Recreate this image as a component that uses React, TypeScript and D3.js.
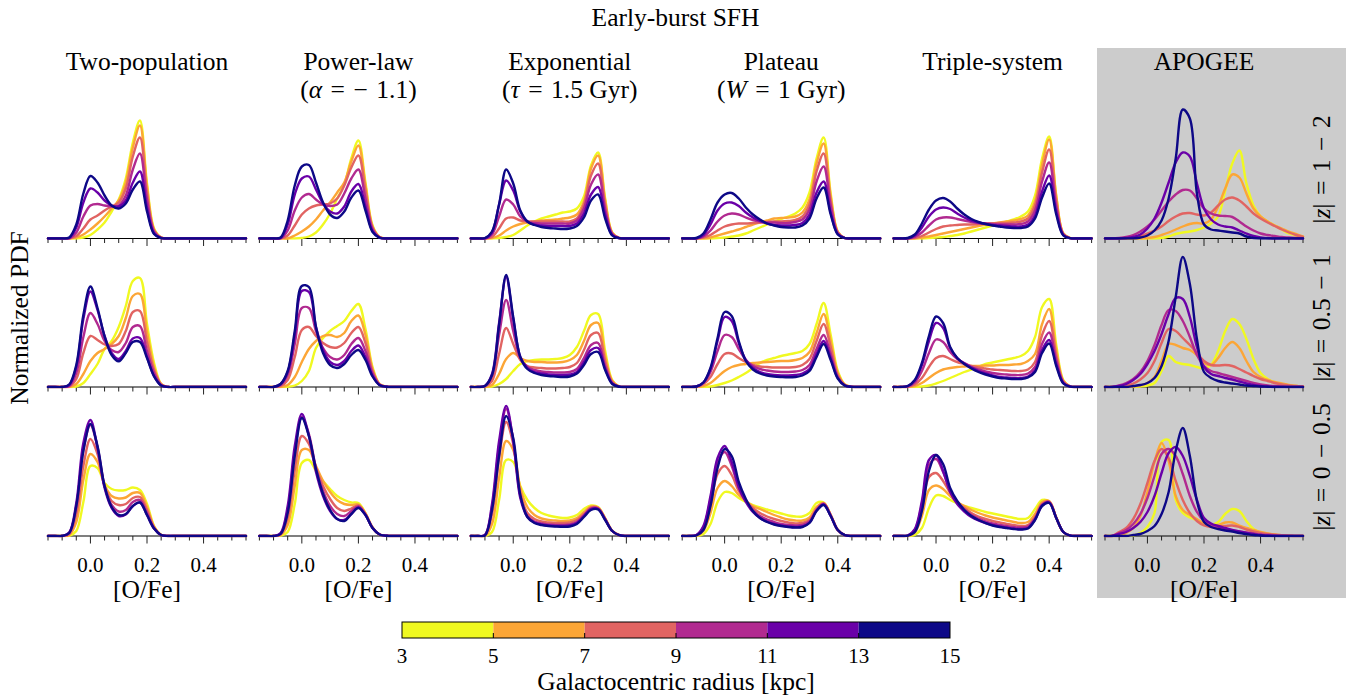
import React from "react";
import * as d3 from "d3";

// ---------- data (PDF heights, grid in [O/Fe]) ----------
const oFeGrid = [-0.15, -0.125, -0.1, -0.075, -0.05, -0.025, 0, 0.025, 0.05, 0.075, 0.1, 0.125, 0.15, 0.175, 0.2, 0.225, 0.25, 0.275, 0.3, 0.325, 0.35, 0.375, 0.4, 0.425, 0.45, 0.475, 0.5, 0.525, 0.55];
const radiusBins = ["3-5", "5-7", "7-9", "9-11", "11-13", "13-15"];
const binColors = ["#f0f921", "#fca636", "#e16462", "#b12a90", "#6a00a8", "#0d0887"];
const colorbarTicks = [3, 5, 7, 9, 11, 13, 15];
const xTickValues = [-0.15, -0.1, -0.05, 0, 0.05, 0.1, 0.15, 0.2, 0.25, 0.3, 0.35, 0.4, 0.45, 0.5, 0.55];
const xTickLabels = [0, 0.2, 0.4];

// each array: [3-5, 5-7, 7-9, 9-11, 11-13, 13-15] kpc
const twoPopulation_z1to2 = [
  [0,0,0,0,0,0.1,0.35,0.9,1.6,2.7,3.9,6.0,9.6,11.8,5.5,1.0,0.1,0,0,0,0,0,0,0,0,0,0,0,0],
  [0,0,0,0,0.1,0.4,0.9,1.5,2.2,3.0,3.8,5.6,9.1,11.3,5.2,0.9,0.1,0,0,0,0,0,0,0,0,0,0,0,0],
  [0,0,0,0,0.25,1.0,1.9,2.3,2.8,3.2,3.6,5.0,8.2,10.1,4.6,0.8,0.1,0,0,0,0,0,0,0,0,0,0,0,0],
  [0,0,0,0,0.6,2.2,3.3,3.45,3.3,3.2,3.3,4.3,6.9,8.5,3.9,0.7,0.05,0,0,0,0,0,0,0,0,0,0,0,0],
  [0,0,0,0.05,1.1,3.6,5.0,4.6,3.8,3.3,3.2,3.8,5.6,6.7,3.1,0.5,0.05,0,0,0,0,0,0,0,0,0,0,0,0],
  [0,0,0,0.1,1.4,4.5,6.25,5.6,4.3,3.3,3.0,3.5,4.9,5.7,2.7,0.45,0.03,0,0,0,0,0,0,0,0,0,0,0,0],
];
const powerLaw_z1to2 = [
  [0,0,0,0,0,0,0.05,0.2,0.6,1.4,2.5,4.0,5.4,8.0,9.8,5.6,1.3,0.15,0,0,0,0,0,0,0,0,0,0,0],
  [0,0,0,0,0,0.3,0.7,1.2,1.9,2.8,3.6,4.6,5.6,7.7,9.3,5.3,1.2,0.15,0,0,0,0,0,0,0,0,0,0,0],
  [0,0,0,0,0.3,1.3,2.4,3.0,3.3,3.4,3.5,4.0,5.3,7.1,8.3,4.8,1.1,0.12,0,0,0,0,0,0,0,0,0,0,0],
  [0,0,0,0,0.8,2.8,4.1,4.45,3.9,3.4,3.25,3.4,4.5,6.0,6.9,4.0,0.95,0.1,0,0,0,0,0,0,0,0,0,0,0],
  [0,0,0,0.05,1.4,4.4,6.0,6.2,4.9,3.5,2.7,2.5,3.2,4.7,5.45,3.2,0.75,0.08,0,0,0,0,0,0,0,0,0,0,0],
  [0,0,0,0.1,1.8,5.3,7.2,7.35,5.6,3.6,2.4,2.05,2.7,4.1,4.8,2.8,0.65,0.07,0,0,0,0,0,0,0,0,0,0,0],
];
const exponential_z1to2 = [
  [0,0,0,0,0.05,0.15,0.35,0.8,1.3,1.7,2.0,2.2,2.4,2.6,2.7,3.0,4.2,7.3,8.6,4.0,0.6,0.05,0,0,0,0,0,0,0],
  [0,0,0,0.05,0.3,0.8,1.2,1.45,1.6,1.7,1.8,1.85,1.9,2.0,2.1,2.4,3.7,7.0,8.3,3.8,0.55,0.05,0,0,0,0,0,0,0],
  [0,0,0,0.15,1.0,2.0,2.1,1.8,1.7,1.7,1.7,1.7,1.7,1.7,1.7,2.0,3.4,6.3,7.5,3.4,0.5,0.04,0,0,0,0,0,0,0],
  [0,0,0,0.4,2.2,3.9,3.4,2.2,1.7,1.55,1.5,1.5,1.5,1.5,1.5,1.8,3.0,5.4,6.4,2.9,0.45,0.04,0,0,0,0,0,0,0],
  [0,0,0,0.6,3.4,5.8,4.8,2.7,1.7,1.4,1.3,1.25,1.25,1.25,1.25,1.5,2.5,4.4,5.15,2.4,0.35,0.03,0,0,0,0,0,0,0],
  [0,0,0.05,0.7,3.4,6.9,5.5,2.8,1.7,1.35,1.15,1.05,1.0,0.95,1.0,1.25,2.1,3.8,4.4,2.0,0.3,0.03,0,0,0,0,0,0,0],
];
const plateau_z1to2 = [
  [0,0,0,0,0,0.05,0.1,0.2,0.3,0.5,0.8,1.1,1.4,1.7,1.95,2.2,2.5,3.1,4.6,8.0,10.1,4.5,0.7,0.05,0,0,0,0,0],
  [0,0,0,0,0.1,0.3,0.5,0.7,0.9,1.15,1.4,1.6,1.8,2.0,2.05,2.1,2.2,2.6,3.9,7.5,9.5,4.2,0.65,0.05,0,0,0,0,0],
  [0,0,0,0.1,0.35,0.8,1.2,1.4,1.5,1.5,1.55,1.6,1.65,1.7,1.7,1.75,1.85,2.2,3.4,6.7,8.5,3.8,0.6,0.05,0,0,0,0,0],
  [0,0,0,0.2,0.8,1.7,2.3,2.5,2.4,2.1,1.85,1.7,1.6,1.6,1.55,1.55,1.65,1.9,2.9,5.7,7.2,3.3,0.5,0.04,0,0,0,0,0],
  [0,0,0,0.35,1.4,2.8,3.5,3.6,3.25,2.6,2.1,1.75,1.5,1.35,1.3,1.3,1.35,1.55,2.4,4.6,5.7,2.6,0.45,0.04,0,0,0,0,0],
  [0,0,0.05,0.5,1.9,3.6,4.4,4.55,4.0,3.1,2.4,1.9,1.5,1.3,1.15,1.1,1.1,1.3,2.0,4.0,5.1,2.4,0.4,0.03,0,0,0,0,0],
];
const tripleSystem_z1to2 = [
  [0,0,0,0,0,0.05,0.1,0.15,0.25,0.35,0.5,0.7,0.9,1.1,1.3,1.5,1.7,1.9,2.2,2.7,4.3,8.0,10.2,4.3,0.5,0.03,0,0,0],
  [0,0,0,0,0.1,0.2,0.35,0.5,0.65,0.8,0.95,1.1,1.25,1.4,1.5,1.6,1.7,1.8,1.95,2.3,3.7,7.4,9.9,4.2,0.5,0.03,0,0,0],
  [0,0,0,0.05,0.25,0.6,0.95,1.2,1.3,1.35,1.4,1.4,1.45,1.5,1.5,1.55,1.55,1.6,1.7,2.0,3.3,6.6,8.9,3.8,0.45,0.03,0,0,0],
  [0,0,0,0.15,0.6,1.3,1.9,2.1,2.1,1.95,1.8,1.65,1.55,1.5,1.45,1.4,1.4,1.4,1.45,1.7,2.8,5.7,7.6,3.2,0.4,0.03,0,0,0],
  [0,0,0,0.3,1.1,2.2,2.9,3.1,2.95,2.5,2.1,1.8,1.6,1.45,1.35,1.3,1.25,1.2,1.2,1.4,2.3,4.7,6.3,2.7,0.35,0.02,0,0,0],
  [0,0,0.05,0.4,1.5,2.9,3.8,4.05,3.7,3.0,2.4,1.95,1.65,1.45,1.3,1.2,1.1,1.05,1.05,1.2,2.0,4.1,5.5,2.4,0.3,0.02,0,0,0],
];
const apogee_z1to2 = [
  [0,0,0,0,0,0,0,0,0.05,0.2,0.45,0.6,0.7,0.85,1.1,1.5,2.2,4.8,7.5,8.8,5.5,3.3,2.2,1.7,1.3,0.9,0.5,0.3,0.15],
  [0,0,0,0,0,0,0.05,0.15,0.35,0.6,0.9,1.2,1.45,1.55,1.5,1.9,3.2,5.0,6.4,6.1,4.5,3.0,2.2,1.7,1.3,1.0,0.7,0.45,0.2],
  [0,0,0,0.05,0.1,0.25,0.5,0.8,1.2,1.75,2.2,2.5,2.55,2.4,2.3,2.6,3.3,3.9,4.1,3.8,3.2,2.5,2.0,1.6,1.25,0.9,0.6,0.35,0.15],
  [0,0,0.05,0.15,0.35,0.7,1.2,1.9,2.8,3.7,4.4,4.85,4.8,4.0,3.0,2.5,2.3,2.25,2.15,1.7,1.2,0.8,0.5,0.35,0.25,0.15,0.1,0.05,0],
  [0,0,0,0.05,0.15,0.4,1.0,2.0,3.6,5.6,7.6,8.6,8.2,5.5,3.0,1.9,1.4,1.2,1.1,0.8,0.5,0.25,0.1,0.05,0,0,0,0,0],
  [0,0,0,0,0,0.1,0.3,0.8,1.8,4.0,8.0,12.9,12.0,4.5,1.4,0.9,0.8,0.7,0.6,0.5,0.2,0.05,0,0,0,0,0,0,0],
];

const twoPopulation_z05to1 = [
  [0,0,0,0,0.05,0.4,1.3,2.3,3.8,4.6,6.0,8.1,10.6,10.9,6.3,2.4,0.3,0,0,0,0,0,0,0,0,0,0,0,0],
  [0,0,0,0,0.3,1.3,2.6,3.4,3.8,4.3,5.1,6.9,9.1,9.3,5.5,2.0,0.3,0,0,0,0,0,0,0,0,0,0,0,0],
  [0,0,0,0.05,0.8,3.4,5.1,4.7,4.25,4.1,4.3,5.6,7.5,7.6,4.5,1.7,0.25,0,0,0,0,0,0,0,0,0,0,0,0],
  [0,0,0,0.1,1.4,5.0,7.4,6.3,4.6,3.7,3.5,4.4,6.0,6.1,3.6,1.4,0.2,0,0,0,0,0,0,0,0,0,0,0,0],
  [0,0,0,0.2,2.0,6.8,9.55,7.7,5.1,3.4,2.8,3.6,4.85,4.9,3.0,1.1,0.15,0,0,0,0,0,0,0,0,0,0,0,0],
  [0,0,0,0.25,2.2,7.2,10.05,7.9,5.07,3.2,2.57,3.4,4.5,4.5,2.9,1.07,0.15,0,0,0,0,0,0,0,0,0,0,0,0],
];
const powerLaw_z05to1 = [
  [0,0,0,0,0.03,0.15,0.6,1.6,3.9,4.9,5.6,6.1,6.6,7.6,8.3,5.8,2.0,0.3,0.03,0,0,0,0,0,0,0,0,0,0],
  [0,0,0,0,0.2,1.0,2.5,3.8,4.6,5.1,5.2,5.0,5.4,6.6,7.15,5.2,1.8,0.28,0.03,0,0,0,0,0,0,0,0,0,0],
  [0,0,0,0.1,0.7,3.0,5.7,6.0,5.1,4.4,4.0,3.95,4.4,5.4,6.0,4.4,1.6,0.25,0.03,0,0,0,0,0,0,0,0,0,0],
  [0,0,0,0.2,1.2,4.3,7.9,7.9,5.6,3.9,3.0,2.75,3.2,4.3,4.9,3.6,1.35,0.22,0.03,0,0,0,0,0,0,0,0,0,0],
  [0,0,0,0.3,1.5,5.2,9.6,9.5,6.0,3.7,2.5,2.2,2.6,3.6,4.15,3.0,1.15,0.2,0.02,0,0,0,0,0,0,0,0,0,0],
  [0,0,0,0.3,1.6,5.6,10.1,10.0,6.0,3.4,2.2,1.9,2.3,3.2,3.7,2.7,1.05,0.18,0.02,0,0,0,0,0,0,0,0,0,0],
];
const exponential_z05to1 = [
  [0,0,0,0.05,0.3,0.8,1.6,2.3,2.6,2.7,2.75,2.75,2.8,2.9,3.2,4.0,5.6,7.2,7.3,3.6,0.7,0.05,0,0,0,0,0,0,0],
  [0,0,0,0.2,1.3,2.8,3.4,2.9,2.6,2.5,2.5,2.45,2.45,2.5,2.7,3.2,4.6,6.2,6.4,3.1,0.6,0.05,0,0,0,0,0,0,0],
  [0,0,0.05,0.6,3.3,5.9,4.3,2.7,2.1,1.95,1.9,1.85,1.85,1.9,2.0,2.4,3.7,5.2,5.4,2.6,0.5,0.04,0,0,0,0,0,0,0],
  [0,0,0.1,1.1,5.2,8.7,5.6,2.9,2.0,1.7,1.55,1.5,1.45,1.45,1.5,1.8,2.9,4.2,4.4,2.1,0.4,0.03,0,0,0,0,0,0,0],
  [0,0,0.1,1.3,6.4,11.0,6.8,3.0,1.9,1.5,1.35,1.25,1.2,1.2,1.25,1.5,2.5,3.7,3.9,1.85,0.35,0.03,0,0,0,0,0,0,0],
  [0,0,0.1,1.2,6.2,11.2,7.0,3.0,1.8,1.4,1.2,1.1,1.05,1.0,1.05,1.35,2.2,3.3,3.5,1.7,0.3,0.02,0,0,0,0,0,0,0],
];
const plateau_z05to1 = [
  [0,0,0,0,0.05,0.2,0.4,0.65,1.0,1.4,1.9,2.4,2.7,2.9,3.1,3.25,3.4,3.6,4.3,6.3,8.4,5.2,1.6,0.25,0.02,0,0,0,0],
  [0,0,0,0.1,0.4,1.0,1.6,2.0,2.2,2.3,2.4,2.45,2.5,2.55,2.6,2.6,2.7,2.9,3.5,5.4,7.3,4.6,1.4,0.22,0.02,0,0,0,0],
  [0,0,0,0.3,1.0,2.3,3.3,3.35,2.9,2.5,2.2,2.05,2.0,1.95,1.95,1.95,2.0,2.2,2.8,4.6,6.3,4.0,1.2,0.2,0.02,0,0,0,0],
  [0,0,0.05,0.4,1.5,3.6,5.2,5.0,3.8,2.7,2.1,1.8,1.65,1.55,1.5,1.5,1.55,1.7,2.2,3.8,5.2,3.3,1.0,0.17,0.02,0,0,0,0],
  [0,0,0.05,0.45,1.8,4.6,7.0,6.6,4.4,2.7,1.9,1.5,1.3,1.2,1.15,1.15,1.2,1.35,1.8,3.3,4.6,2.9,0.9,0.15,0.01,0,0,0,0],
  [0,0,0.05,0.45,1.9,4.9,7.5,7.1,4.6,2.6,1.75,1.35,1.15,1.05,1.0,0.97,1.0,1.15,1.6,3.0,4.3,2.7,0.85,0.14,0.01,0,0,0,0],
];
const tripleSystem_z05to1 = [
  [0,0,0,0,0.05,0.15,0.35,0.6,0.9,1.2,1.5,1.75,2.0,2.3,2.45,2.6,2.75,2.9,3.1,3.6,5.0,8.0,8.8,4.2,0.7,0.05,0,0,0],
  [0,0,0,0.1,0.4,0.9,1.4,1.75,1.9,2.0,2.05,2.1,2.1,2.15,2.15,2.2,2.2,2.25,2.3,2.6,3.3,6.3,7.8,3.7,0.6,0.05,0,0,0],
  [0,0,0.03,0.25,0.9,2.0,2.9,3.1,2.8,2.5,2.3,2.1,1.95,1.85,1.75,1.7,1.65,1.6,1.6,1.75,2.5,5.2,6.6,3.2,0.55,0.04,0,0,0],
  [0,0,0.05,0.45,1.6,3.4,4.75,4.5,3.5,2.8,2.4,2.0,1.75,1.55,1.4,1.3,1.25,1.2,1.2,1.35,2.0,4.3,5.45,2.7,0.45,0.03,0,0,0],
  [0,0,0.1,0.65,2.2,4.6,6.4,5.9,3.9,2.9,2.35,1.95,1.6,1.35,1.15,1.0,0.95,0.9,0.9,1.05,1.65,3.7,4.7,2.3,0.4,0.03,0,0,0],
  [0,0,0.1,0.7,2.4,5.1,7.05,6.4,4.0,2.9,2.3,1.85,1.5,1.25,1.05,0.9,0.85,0.8,0.8,0.95,1.5,3.4,4.35,2.1,0.35,0.03,0,0,0],
];
const apogee_z05to1 = [
  [0,0,0,0,0,0.05,0.15,0.4,1.6,3.1,2.5,2.3,2.2,2.0,1.85,2.2,3.6,5.6,6.8,6.3,4.8,2.8,1.4,0.8,0.45,0.25,0.15,0.1,0.05],
  [0,0,0,0,0.05,0.15,0.4,1.0,2.6,4.3,4.2,3.9,3.7,3.2,2.4,2.2,2.9,3.9,4.5,3.9,2.6,1.5,1.0,0.7,0.5,0.35,0.2,0.1,0.05],
  [0,0,0.05,0.15,0.35,0.75,1.4,2.6,4.4,5.8,5.6,4.9,4.2,3.4,2.6,2.2,2.15,2.2,2.1,1.8,1.45,1.1,0.8,0.6,0.4,0.25,0.15,0.1,0.05],
  [0,0,0.15,0.4,0.8,1.5,2.6,4.2,6.2,7.7,7.6,6.6,5.0,3.2,2.1,1.6,1.4,1.2,1.0,0.8,0.6,0.4,0.25,0.15,0.1,0.05,0,0,0],
  [0,0,0.1,0.3,0.7,1.3,2.3,3.6,5.3,7.3,8.9,8.8,7.0,4.0,2.0,1.3,1.1,0.9,0.75,0.55,0.35,0.2,0.1,0.05,0,0,0,0,0],
  [0,0,0,0,0.1,0.2,0.4,0.9,2.1,4.6,9.0,13.0,10.3,4.8,1.5,0.9,0.6,0.45,0.35,0.25,0.15,0.1,0.05,0.03,0,0,0,0,0],
];

const twoPopulation_z0to05 = [
  [0,0,0,0.02,0.5,3.4,7.0,6.8,5.3,4.7,4.55,4.6,4.85,4.6,3.2,1.0,0.12,0,0,0,0,0,0,0,0,0,0,0,0],
  [0,0,0,0.1,1.4,5.6,8.2,7.4,5.1,4.0,3.75,3.85,4.3,4.3,2.9,0.95,0.12,0,0,0,0,0,0,0,0,0,0,0,0],
  [0,0,0,0.2,2.2,7.0,9.7,8.2,5.0,3.5,3.1,3.2,3.8,3.9,2.6,0.85,0.1,0,0,0,0,0,0,0,0,0,0,0,0],
  [0,0,0,0.3,2.9,8.6,11.1,8.9,5.0,3.1,2.45,2.6,3.4,3.6,2.3,0.8,0.1,0,0,0,0,0,0,0,0,0,0,0,0],
  [0,0,0,0.35,3.3,9.3,11.6,8.8,4.8,2.8,2.0,2.15,3.0,3.35,2.1,0.75,0.1,0,0,0,0,0,0,0,0,0,0,0,0],
  [0,0,0.02,0.3,3.0,8.5,11.2,9.0,5.0,2.9,2.1,2.2,3.0,3.35,2.1,0.75,0.1,0,0,0,0,0,0,0,0,0,0,0,0],
];
const powerLaw_z0to05 = [
  [0,0,0,0.03,0.4,3.2,7.3,7.6,6.5,5.5,4.7,4.0,3.6,3.35,3.3,2.3,0.85,0.15,0.02,0,0,0,0,0,0,0,0,0,0],
  [0,0,0,0.1,1.1,5.0,8.6,8.6,7.0,5.5,4.4,3.6,3.2,3.1,3.15,2.25,0.85,0.15,0.02,0,0,0,0,0,0,0,0,0,0],
  [0,0,0,0.15,1.8,6.6,10.0,9.2,6.8,5.0,3.7,2.8,2.5,2.75,3.05,2.2,0.85,0.15,0.02,0,0,0,0,0,0,0,0,0,0],
  [0,0,0,0.25,2.6,8.4,11.9,10.2,6.8,4.5,3.0,2.2,2.0,2.5,2.95,2.15,0.8,0.15,0.02,0,0,0,0,0,0,0,0,0,0],
  [0,0,0,0.3,3.0,9.0,12.2,10.0,6.4,4.0,2.5,1.7,1.6,2.2,2.85,2.1,0.8,0.15,0.02,0,0,0,0,0,0,0,0,0,0],
  [0,0,0,0.2,2.3,8.0,11.8,10.0,6.7,4.2,2.6,1.7,1.5,2.2,2.8,2.1,0.8,0.15,0.02,0,0,0,0,0,0,0,0,0,0],
];
const exponential_z0to05 = [
  [0,0,0,0.4,3.6,7.6,7.4,5.0,3.6,2.8,2.3,2.05,1.9,1.8,1.85,2.1,2.7,3.05,2.9,1.8,0.55,0.08,0,0,0,0,0,0,0],
  [0,0,0.02,1.2,5.8,9.5,8.6,4.8,2.9,2.1,1.75,1.6,1.55,1.5,1.55,1.8,2.4,2.95,2.85,1.75,0.5,0.08,0,0,0,0,0,0,0],
  [0,0,0.05,2.2,7.8,11.4,9.2,4.3,2.3,1.7,1.45,1.35,1.3,1.3,1.35,1.6,2.2,2.85,2.8,1.7,0.5,0.08,0,0,0,0,0,0,0],
  [0,0,0.08,2.9,9.0,12.7,9.6,4.0,2.0,1.45,1.25,1.15,1.1,1.1,1.15,1.4,2.05,2.75,2.75,1.7,0.5,0.08,0,0,0,0,0,0,0],
  [0,0,0.1,3.2,9.5,13.0,9.5,3.8,1.9,1.35,1.15,1.05,1.0,1.0,1.05,1.3,2.0,2.7,2.7,1.65,0.5,0.08,0,0,0,0,0,0,0],
  [0,0,0.05,2.6,8.0,12.0,9.8,4.1,1.9,1.3,1.1,1.0,0.95,0.92,0.95,1.2,1.9,2.6,2.65,1.6,0.5,0.08,0,0,0,0,0,0,0],
];
const plateau_z0to05 = [
  [0,0,0,0.2,1.2,3.4,4.4,4.3,3.8,3.4,3.1,2.85,2.65,2.45,2.25,2.05,1.95,1.95,2.3,3.3,3.35,2.1,0.6,0.08,0,0,0,0,0],
  [0,0,0.03,0.5,2.3,4.8,5.5,5.0,4.1,3.5,3.0,2.7,2.4,2.1,1.85,1.65,1.55,1.55,1.85,2.9,3.3,2.1,0.6,0.08,0,0,0,0,0],
  [0,0,0.05,0.7,3.1,6.2,7.0,6.1,4.5,3.5,2.8,2.3,1.95,1.7,1.5,1.35,1.25,1.3,1.6,2.7,3.25,2.1,0.6,0.08,0,0,0,0,0],
  [0,0,0.1,0.9,3.7,7.3,8.4,7.0,4.8,3.5,2.6,2.0,1.65,1.4,1.2,1.1,1.05,1.1,1.45,2.6,3.2,2.05,0.6,0.08,0,0,0,0,0],
  [0,0,0.1,1.0,4.0,7.8,9.0,7.4,4.9,3.4,2.4,1.8,1.45,1.2,1.05,0.95,0.9,0.95,1.35,2.55,3.15,2.0,0.6,0.08,0,0,0,0,0],
  [0,0,0.05,0.6,3.0,6.8,8.7,8.0,5.4,3.7,2.5,1.8,1.4,1.15,1.0,0.9,0.85,0.9,1.3,2.5,3.1,2.0,0.6,0.08,0,0,0,0,0],
];
const tripleSystem_z0to05 = [
  [0,0,0,0.1,0.8,2.8,4.05,4.0,3.6,3.3,3.0,2.8,2.6,2.4,2.25,2.1,1.95,1.8,1.7,1.8,2.7,3.6,3.45,1.85,0.4,0.03,0,0,0],
  [0,0,0,0.35,2.0,4.6,5.05,4.7,4.0,3.4,3.0,2.6,2.3,2.05,1.85,1.7,1.55,1.4,1.3,1.4,2.2,3.4,3.5,1.85,0.4,0.03,0,0,0],
  [0,0,0.03,0.5,2.7,5.9,6.3,5.5,4.3,3.4,2.8,2.3,1.95,1.7,1.5,1.35,1.2,1.1,1.0,1.1,1.9,3.2,3.45,1.85,0.4,0.03,0,0,0],
  [0,0,0.05,0.6,3.2,7.1,7.7,6.4,4.6,3.4,2.65,2.1,1.75,1.45,1.25,1.1,1.0,0.9,0.85,0.95,1.75,3.1,3.4,1.8,0.4,0.03,0,0,0],
  [0,0,0.05,0.7,3.5,7.6,8.1,6.5,4.4,3.2,2.45,1.9,1.55,1.3,1.1,0.95,0.85,0.75,0.7,0.8,1.65,3.05,3.35,1.8,0.4,0.03,0,0,0],
  [0,0,0.03,0.4,2.5,6.5,8.1,7.2,4.8,3.5,2.6,2.0,1.6,1.3,1.05,0.9,0.8,0.7,0.65,0.75,1.6,3.0,3.3,1.8,0.4,0.03,0,0,0],
];
const apogee_z0to05 = [
  [0,0,0,0,0.05,0.3,0.9,2.3,9.4,9.6,3.6,2.3,1.85,1.6,1.3,1.1,1.4,2.2,2.7,2.5,1.5,0.7,0.35,0.2,0.1,0.05,0,0,0],
  [0,0,0,0.3,0.8,2.0,4.4,7.4,9.3,7.5,4.0,2.6,2.1,1.7,1.2,1.0,1.1,1.35,1.35,1.05,0.8,0.6,0.4,0.25,0.15,0.08,0.04,0,0],
  [0,0,0.4,0.8,1.7,3.2,5.3,7.5,8.7,7.8,5.5,3.6,2.3,1.5,1.05,0.9,0.95,1.0,1.05,0.9,0.65,0.45,0.3,0.2,0.12,0.07,0.04,0,0],
  [0,0,0.3,0.6,1.2,2.2,3.8,6.0,8.2,8.7,8.0,6.2,4.0,2.4,1.5,1.1,0.85,0.7,0.55,0.45,0.35,0.25,0.15,0.1,0.05,0,0,0,0],
  [0,0,0.2,0.4,0.8,1.4,2.4,4.0,6.3,8.3,8.9,8.0,6.0,3.6,1.8,1.25,1.0,0.8,0.6,0.45,0.3,0.2,0.1,0.05,0,0,0,0,0],
  [0,0,0,0,0.1,0.2,0.5,1.0,2.2,4.4,8.5,10.8,8.0,3.5,1.4,0.9,0.7,0.55,0.45,0.3,0.2,0.1,0.05,0,0,0,0,0,0],
];

const panelRows = [
  [twoPopulation_z1to2, powerLaw_z1to2, exponential_z1to2, plateau_z1to2, tripleSystem_z1to2, apogee_z1to2],
  [twoPopulation_z05to1, powerLaw_z05to1, exponential_z05to1, plateau_z05to1, tripleSystem_z05to1, apogee_z05to1],
  [twoPopulation_z0to05, powerLaw_z0to05, exponential_z0to05, plateau_z0to05, tripleSystem_z0to05, apogee_z0to05],
];

type Seg = { t: string; i?: boolean };
const SP = "\u2004"; // three-per-em space, slightly wider than a normal space
const columnTitles: Seg[][][] = [
  [[{ t: "Two-population" }]],
  [[{ t: "Power-law" }], [{ t: "(" }, { t: "α", i: true }, { t: `${SP}=${SP}−${SP}1.1)` }]],
  [[{ t: "Exponential" }], [{ t: "(" }, { t: "τ", i: true }, { t: `${SP}=${SP}1.5 Gyr)` }]],
  [[{ t: "Plateau" }], [{ t: "(" }, { t: "W", i: true }, { t: `${SP}=${SP}1 Gyr)` }]],
  [[{ t: "Triple-system" }]],
  [[{ t: "APOGEE" }]],
];
const rowLabels: Seg[][] = [
  [{ t: "|" }, { t: "z", i: true }, { t: `|${SP}=${SP}1${SP}−${SP}2` }],
  [{ t: "|" }, { t: "z", i: true }, { t: `|${SP}=${SP}0.5${SP}−${SP}1` }],
  [{ t: "|" }, { t: "z", i: true }, { t: `|${SP}=${SP}0${SP}−${SP}0.5` }],
];

// ---------- layout ----------
const W = 1364;
const H = 698;
const FONT = "'Liberation Serif', 'Times New Roman', Times, serif";
const panelLefts = [48, 259.4, 470.8, 682.2, 893.6, 1105];
const PANEL_W = 198;
const baselines = [238.5, 387, 536];
const Y_UNITS = 13;
const Y_PX = 130;
const BIG = 25.5;
const SMALL = 21;

function renderSegs(segs: Seg[]) {
  return segs.map((s, k) => (
    <tspan key={k} fontStyle={s.i ? "italic" : "normal"}>{s.t}</tspan>
  ));
}

export default function App() {
  const cbScale = d3.scaleLinear().domain([3, 15]).range([402, 950]);
  const cbY = 622;
  const cbH = 16;

  return (
    <svg width={W} height={H} style={{ position: "absolute", left: 0, top: 0, display: "block", background: "#fff" }} fontFamily={FONT}>
      <defs>
        {panelRows.map((row, r) =>
          row.map((_, c) => (
            <clipPath id={`clip-${r}-${c}`} key={`${r}-${c}`}>
              <rect x={panelLefts[c] - 2} y={baselines[r] - 150} width={PANEL_W + 4} height={151.3} />
            </clipPath>
          ))
        )}
      </defs>

      {/* APOGEE background */}
      <rect x={1097} y={48} width={249} height={550} fill="#cccccc" />

      {/* Suptitle */}
      <text x={675.5} y={26} textAnchor="middle" fontSize={BIG}>Early-burst SFH</text>

      {/* Column titles */}
      {columnTitles.map((lines, c) => (
        <g key={c}>
          {lines.map((segs, li) => (
            <text key={li} x={panelLefts[c] + PANEL_W / 2} y={70 + li * 28} textAnchor="middle" fontSize={BIG}>
              {renderSegs(segs)}
            </text>
          ))}
        </g>
      ))}

      {/* Panels */}
      {panelRows.map((row, r) =>
        row.map((curves, c) => {
          const L = panelLefts[c];
          const base = baselines[r];
          const x = d3.scaleLinear().domain([-0.15, 0.55]).range([L, L + PANEL_W]);
          const y = d3.scaleLinear().domain([0, Y_UNITS]).range([base, base - Y_PX]);
          const line = d3
            .line<number>()
            .x((_, i) => x(oFeGrid[i]))
            .y((d) => y(d))
            .curve(d3.curveCatmullRom.alpha(0.5));
          return (
            <g key={`${r}-${c}`}>
              <line x1={L} x2={L + PANEL_W} y1={base} y2={base} stroke="#000" strokeWidth={1.1} />
              {xTickValues.map((t, k) => {
                const major = xTickLabels.some((m) => Math.abs(m - t) < 1e-9);
                return (
                  <line key={k} x1={x(t)} x2={x(t)} y1={base} y2={base + (major ? 7.5 : 4.5)} stroke="#222" strokeWidth={1} />
                );
              })}
              <g clipPath={`url(#clip-${r}-${c})`}>
                {curves.map((vals, k) => (
                  <path key={radiusBins[k]} d={line(vals) || ""} fill="none" stroke={binColors[k]} strokeWidth={2.4} strokeLinejoin="round" strokeLinecap="round" />
                ))}
              </g>
              {r === 2 && (
                <g>
                  {xTickLabels.map((t) => (
                    <text key={t} x={x(t)} y={base + 36} textAnchor="middle" fontSize={SMALL}>
                      {d3.format(".1f")(t)}
                    </text>
                  ))}
                  <text x={L + PANEL_W / 2} y={base + 62} textAnchor="middle" fontSize={BIG}>[O/Fe]</text>
                </g>
              )}
            </g>
          );
        })
      )}

      {/* Row labels on the right */}
      {rowLabels.map((segs, r) => (
        <text key={r} transform={`translate(1330, ${baselines[r] - 69}) rotate(-90)`} textAnchor="middle" fontSize={BIG}>
          {renderSegs(segs)}
        </text>
      ))}

      {/* Y label */}
      <text transform={`translate(28, ${baselines[1] - 69}) rotate(-90)`} textAnchor="middle" fontSize={BIG}>Normalized PDF</text>

      {/* Colorbar */}
      <g>
        {binColors.map((col, k) => (
          <rect key={col} x={cbScale(colorbarTicks[k])} y={cbY} width={cbScale(colorbarTicks[k + 1]) - cbScale(colorbarTicks[k])} height={cbH} fill={col} />
        ))}
        {colorbarTicks.slice(1, -1).map((t) => (
          <line key={t} x1={cbScale(t)} x2={cbScale(t)} y1={cbY + cbH} y2={cbY + cbH - 5} stroke="#000" strokeWidth={1} />
        ))}
        <rect x={cbScale(3)} y={cbY} width={cbScale(15) - cbScale(3)} height={cbH} fill="none" stroke="#000" strokeWidth={1} />
        {colorbarTicks.map((t) => (
          <text key={t} x={cbScale(t)} y={cbY + 41} textAnchor="middle" fontSize={SMALL}>{t}</text>
        ))}
        <text x={676} y={cbY + 68} textAnchor="middle" fontSize={BIG}>Galactocentric radius [kpc]</text>
      </g>
    </svg>
  );
}
